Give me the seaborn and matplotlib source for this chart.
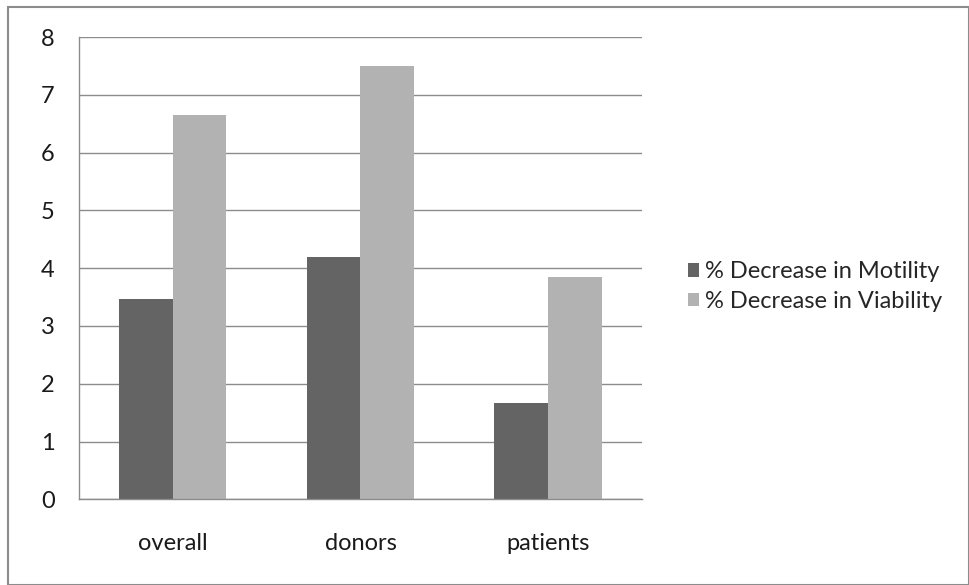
import numpy as np
import pandas as pd
import matplotlib
matplotlib.use('Agg')
import matplotlib.pyplot as plt
import seaborn as sns
from matplotlib.patches import Rectangle

groups = ['overall', 'donors', 'patients']
motility = [3.47, 4.2, 1.67]
viability = [6.65, 7.5, 3.85]
series = ['% Decrease in Motility', '% Decrease in Viability']
yticks = [0, 1, 2, 3, 4, 5, 6, 7, 8]

df = pd.DataFrame({
    'group': groups * 2,
    'value': motility + viability,
    'series': [series[0]] * 3 + [series[1]] * 3,
})

sns.set_style('white')
plt.rcParams['font.family'] = ['Lato', 'DejaVu Sans']

fig = plt.figure(figsize=(9.69, 5.85), dpi=100)
ax = fig.add_axes([0.0815, 0.1465, 0.581, 0.79])

sns.barplot(data=df, x='group', y='value', hue='series', ax=ax,
            palette=['#646464', '#b2b2b2'], width=0.572, linewidth=0,
            saturation=1)

ax.set_ylim(0, 8)
ax.set_xlim(-0.5, 2.5)
ax.set_yticks(yticks)
ax.yaxis.grid(True, color='#8c8c8c', linewidth=1)
ax.set_axisbelow(True)
ax.set_xlabel('')
ax.set_ylabel('')
for s in ['top', 'right']:
    ax.spines[s].set_visible(False)
for s in ['left', 'bottom']:
    ax.spines[s].set_color('#8c8c8c')
    ax.spines[s].set_linewidth(1)

ax.set_xticks(np.arange(len(groups)))
ax.set_xticklabels(groups)
ax.set_xticks([-0.5, 0.5, 1.5, 2.5], minor=True)
ax.tick_params(axis='x', which='major', length=0, pad=24, labelsize=17)
ax.tick_params(axis='x', which='minor', length=7, color='#8c8c8c', width=1)
ax.tick_params(axis='y', length=6.5, color='#8c8c8c', width=1, labelsize=17, pad=11)
for lbl in ax.get_xticklabels() + ax.get_yticklabels():
    lbl.set_color('#1a1a1a')

ax.get_legend().remove()
handles, labels = ax.get_legend_handles_labels()
fig.legend(handles, labels, loc='center left', bbox_to_anchor=(0.6975, 0.5103),
           frameon=False, fontsize=17, handlelength=0.5, handleheight=0.5,
           handletextpad=0.25, labelspacing=0.36, borderpad=0)

fig.patches.append(Rectangle((0.008, 0.0), 0.992, 0.988, transform=fig.transFigure,
                             fill=False, edgecolor='#8c8c8c', linewidth=1.5))

fig.savefig('out.png', dpi=100)
